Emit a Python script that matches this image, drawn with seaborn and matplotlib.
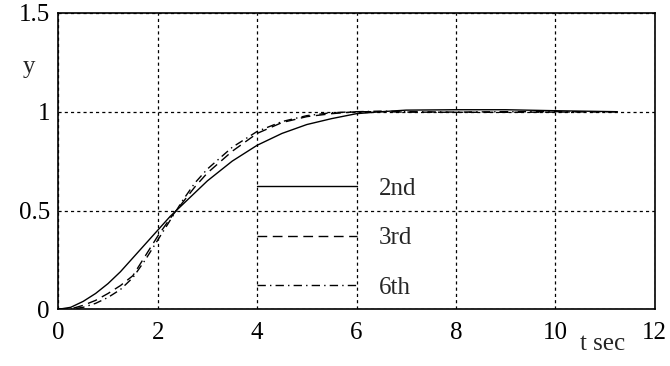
import matplotlib
matplotlib.use("Agg")
import matplotlib.pyplot as plt
import seaborn as sns
import pandas as pd

# ---- data ----
t = [0, 0.25, 0.5, 0.75, 1, 1.25, 1.5, 1.75, 2, 2.25, 2.5, 2.75, 3, 3.5, 4,
     4.5, 5, 5.5, 6, 6.5, 7, 8, 9, 10, 11.25]
y_2nd = [0, 0.01, 0.04, 0.08, 0.13, 0.19, 0.26, 0.33, 0.40, 0.47, 0.53, 0.59,
         0.65, 0.75, 0.83, 0.89, 0.935, 0.965, 0.99, 1.0, 1.008, 1.01, 1.01,
         1.005, 1.0]
y_3rd = [0, 0.002, 0.02, 0.045, 0.08, 0.12, 0.17, 0.27, 0.37, 0.46, 0.54, 0.62,
         0.69, 0.80, 0.89, 0.945, 0.975, 0.99, 1.0, 1.0, 0.998, 0.997, 0.997,
         0.998, 1.0]
y_6th = [0, 0.0, 0.01, 0.03, 0.06, 0.10, 0.16, 0.25, 0.35, 0.45, 0.55, 0.64,
         0.71, 0.82, 0.90, 0.95, 0.98, 0.995, 1.0, 1.003, 1.0, 0.998, 1.0,
         1.0, 1.0]
orders = ["2nd", "3rd", "6th"]
x_ticks = [0, 2, 4, 6, 8, 10, 12]
y_ticks = [0, 0.5, 1, 1.5]
y_tick_labels = ["0", "0.5", "1", "1.5"]

df = pd.concat([
    pd.DataFrame({"t": t, "y": y_2nd, "order": "2nd"}),
    pd.DataFrame({"t": t, "y": y_3rd, "order": "3rd"}),
    pd.DataFrame({"t": t, "y": y_6th, "order": "6th"}),
])

sns.set_style("white")
plt.rcParams["font.family"] = ["Liberation Serif", "DejaVu Serif"]
FS = 18

fig = plt.figure(figsize=(6.7, 3.66), dpi=100)
ax = fig.add_axes([58.3 / 670, 1 - 309.3 / 366, 596.4 / 670, 296.4 / 366])

sns.lineplot(data=df, x="t", y="y", style="order", style_order=orders,
             dashes={"2nd": "", "3rd": (7, 4), "6th": (6, 3, 1, 3)},
             color="black", linewidth=1.0, ax=ax, legend=True)

ax.set_xlim(0, 12)
ax.set_ylim(0, 1.5)
ax.set_xticks(x_ticks)
ax.set_xticklabels([str(v) for v in x_ticks])
ax.set_yticks(y_ticks)
ax.set_yticklabels(y_tick_labels)
ax.tick_params(axis="both", length=0, labelsize=FS, colors="black")
ax.tick_params(axis="x", pad=9)
ax.tick_params(axis="y", pad=6)

ax.grid(True, color="black", linestyle=(0, (2.5, 2.5)), linewidth=0.9)
for s in ax.spines.values():
    s.set_visible(True)
    s.set_color("black")
    s.set_linewidth(1.2)

ax.set_ylabel("y", rotation=0, fontsize=FS, ha="center", va="center")
ax.yaxis.set_label_coords(-0.049, 0.817)
ax.set_xlabel("t sec", fontsize=FS, ha="center", va="center")
ax.xaxis.set_label_coords(0.912, -0.117)

handles, labels = ax.get_legend_handles_labels()
ax.legend(handles, labels, frameon=False, loc="upper left",
          bbox_to_anchor=(4.0, 0.667), bbox_transform=ax.transData,
          handlelength=4.0, handletextpad=0.88, labelspacing=1.07,
          borderpad=0, borderaxespad=0, prop={"size": FS})

fig.savefig("out.png", dpi=100, facecolor="white")
